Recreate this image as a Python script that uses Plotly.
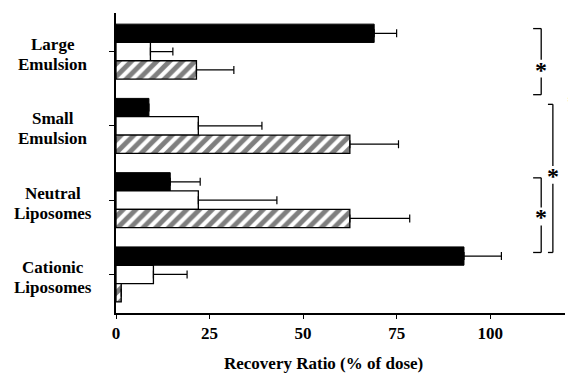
import plotly.graph_objects as go

categories = ["Large<br>Emulsion", "Small<br>Emulsion", "Neutral<br>Liposomes", "Cationic<br>Liposomes"]
solid_vals = [69, 8.8, 14.5, 93]
solid_err = [6, 0, 8, 10]
open_vals = [9.2, 22, 22, 10]
open_err = [6, 17, 21, 9]
hatched_vals = [21.5, 62.5, 62.5, 1.4]
hatched_err = [10, 13, 16, 0]
x_ticks = [0, 25, 50, 75, 100]
x_title = "Recovery Ratio (% of dose)"

FONT = "Liberation Serif"
ypos = list(range(len(categories)))

# the page body has an 8px default margin; size the figure so the plot area lands where the reference has it
PAGE_OFFSET = 8


def err(arr):
    return dict(type="data", symmetric=False, array=arr, arrayminus=[0] * len(arr),
                color="black", thickness=1.2, width=4)


fig = go.Figure()
fig.add_trace(go.Bar(y=ypos, x=solid_vals, orientation="h", name="Solid",
                     marker=dict(color="black", line=dict(color="black", width=1)),
                     error_x=err(solid_err)))
fig.add_trace(go.Bar(y=ypos, x=open_vals, orientation="h", name="Open",
                     marker=dict(color="white", line=dict(color="black", width=1.3)),
                     error_x=err(open_err)))
fig.add_trace(go.Bar(y=ypos, x=hatched_vals, orientation="h", name="Hatched",
                     marker=dict(color="white",
                                 pattern=dict(shape="/", fgcolor="black", bgcolor="white",
                                              size=9, solidity=0.55),
                                 line=dict(color="black", width=1.3)),
                     error_x=err(hatched_err)))

annotations = []
# category labels, centered lines
for i, c in enumerate(categories):
    lines = c.split("<br>")
    n = len(lines)
    for j, ln in enumerate(lines):
        annotations.append(dict(x=-0.141, xref="paper", y=i, yref="y", text="<b>" + ln + "</b>",
                                showarrow=False, xanchor="center", yanchor="middle",
                                yshift=-3 + (n - 1) / 2 * 20 - j * 20,
                                font=dict(family=FONT, size=17, color="black")))

annotations.append(dict(x=0.463, xref="paper", y=-0.167, yref="paper", text="<b>" + x_title + "</b>",
                        showarrow=False, xanchor="center", yanchor="middle",
                        font=dict(family=FONT, size=17, color="black")))

# significance brackets: (top, bottom, x_left, x_right, star_y)
brackets = [
    (-0.31, 0.58, 0.929, 0.947, 0.23),
    (-0.31, 1.70, 1.007, 1.018, 0.67),
    (0.71, 2.705, 0.962, 0.973, 1.66),
    (1.70, 2.705, 0.929, 0.947, 2.22),
]
shapes = []
gap = 0.12
for top, bot, xl, xr, sy in brackets:
    L = dict(color="black", width=1.3)
    shapes.append(dict(type="line", xref="paper", yref="y", x0=xl, x1=xr, y0=top, y1=top, line=L))
    shapes.append(dict(type="line", xref="paper", yref="y", x0=xl, x1=xr, y0=bot, y1=bot, line=L))
    shapes.append(dict(type="line", xref="paper", yref="y", x0=xr, x1=xr, y0=top, y1=sy - gap, line=L))
    shapes.append(dict(type="line", xref="paper", yref="y", x0=xr, x1=xr, y0=sy + gap, y1=bot, line=L))
    annotations.append(dict(x=xr, xref="paper", y=sy, yref="y", text="<b>*</b>",
                            showarrow=False, xanchor="center", yanchor="middle", yshift=-1,
                            font=dict(family=FONT, size=24, color="black")))

fig.update_layout(
    width=576 - PAGE_OFFSET, height=379 - PAGE_OFFSET,
    margin=dict(l=116 - PAGE_OFFSET, r=11, t=13 - PAGE_OFFSET, b=66),
    paper_bgcolor="white", plot_bgcolor="white",
    barmode="group", bargap=0.26, bargroupgap=0,
    showlegend=False,
    font=dict(family=FONT, size=17, color="black"),
    shapes=shapes, annotations=annotations,
)
fig.update_xaxes(range=[0, 120], tickvals=x_ticks, ticktext=["<b>%d</b>" % v for v in x_ticks],
                 ticks="outside", ticklen=4,
                 tickcolor="black", showline=True, linecolor="black", linewidth=1.5,
                 showgrid=False, zeroline=False,
                 tickfont=dict(family=FONT, size=17))
fig.update_yaxes(range=[3.52, -0.52], tickvals=ypos, showticklabels=False, ticks="outside",
                 ticklen=5, tickcolor="black", showline=True, linecolor="black", linewidth=1.5,
                 showgrid=False, zeroline=False)

fig.write_html("out.html")
